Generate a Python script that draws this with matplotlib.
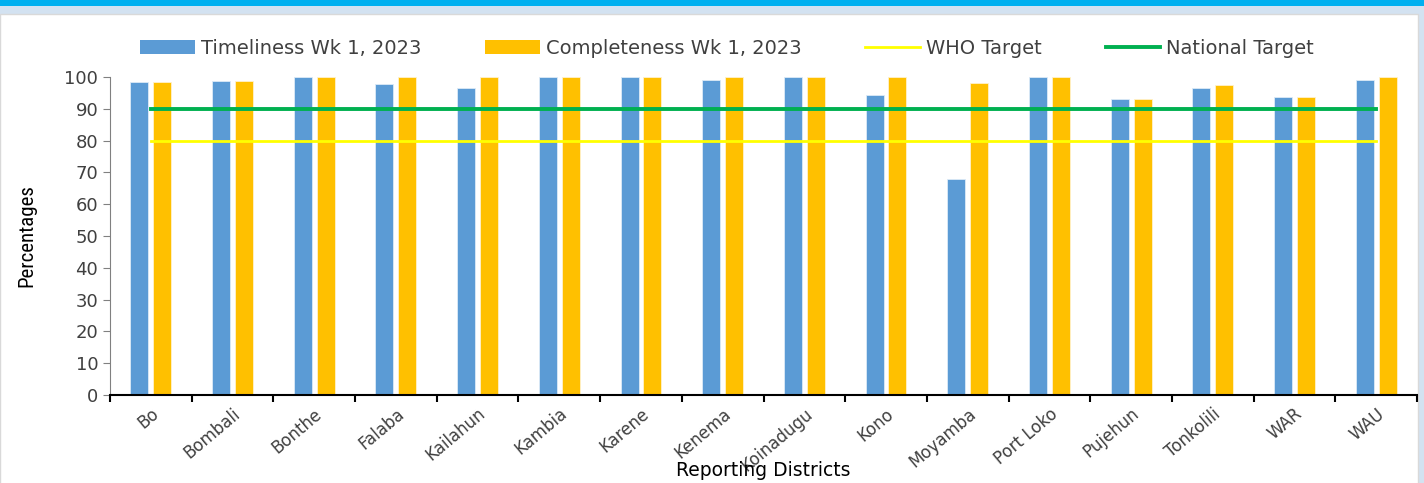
import matplotlib.pyplot as plt
import numpy as np
from matplotlib.patches import Patch, Rectangle
from matplotlib.lines import Line2D
from matplotlib import font_manager

districts = ["Bo", "Bombali", "Bonthe", "Falaba", "Kailahun", "Kambia", "Karene", "Kenema",
             "Koinadugu", "Kono", "Moyamba", "Port Loko", "Pujehun", "Tonkolili", "WAR", "WAU"]
timeliness = [98.4, 98.8, 100, 97.7, 96.6, 100, 100, 99.2, 100, 94.3, 68, 100, 93.1, 96.4, 93.8, 99.0]
completeness = [98.4, 98.8, 100, 100, 100, 100, 100, 100, 100, 100, 98.1, 100, 93.1, 97.4, 93.8, 100]
who_target = [80] * len(districts)
national_target = [90] * len(districts)

BLUE = "#5B9BD5"
GOLD = "#FFC000"
TEXT = "#404040"


def narrow_family():
    names = {f.name for f in font_manager.fontManager.ttflist}
    for cand in ("Liberation Sans Narrow", "DejaVu Sans Condensed", "Roboto Condensed"):
        if cand in names:
            return cand
    return "Liberation Sans"


def main():
    fig = plt.figure(figsize=(14.24, 4.83), dpi=100, facecolor="#D3E2F1")
    # top accent strip and white card
    fig.patches.append(Rectangle((0, 1 - 6 / 483), 1, 6 / 483, transform=fig.transFigure,
                                 facecolor="#00B0F0", edgecolor="none", zorder=-2))
    fig.patches.append(Rectangle((0, -0.01), 1418 / 1424, 1.01 - 14 / 483, transform=fig.transFigure,
                                 facecolor="white", edgecolor="#D9D9D9", lw=1, zorder=-1))

    ax = fig.add_axes([110 / 1424, 88 / 483, 1307 / 1424, 318 / 483])
    ax.set_facecolor("none")
    x = np.arange(len(districts))
    w = 0.22
    ax.bar(x - 0.14, timeliness, w, color=BLUE, edgecolor="#DDEBF7", lw=0.6, clip_on=False, zorder=2)
    ax.bar(x + 0.14, completeness, w, color=GOLD, edgecolor="#FFF2CC", lw=0.6, clip_on=False, zorder=2)
    ax.plot(x, who_target, color="#FFFF00", lw=2, zorder=3)
    ax.plot(x, national_target, color="#00B050", lw=2.8, zorder=4)

    ax.set_xlim(-0.5, len(districts) - 0.5)
    ax.set_ylim(0, 100)
    ax.set_yticks(range(0, 101, 10))
    ax.tick_params(axis="y", labelsize=13, labelcolor=TEXT, color="#808080", length=5, direction="out")
    ax.set_xticks(np.arange(-0.5, len(districts)), labels=[])
    ax.set_xticks(x, labels=districts, minor=True)
    ax.tick_params(axis="x", which="major", length=5, width=1.5, color="black", direction="out")
    ax.tick_params(axis="x", which="minor", length=0, pad=7, labelsize=12, labelcolor=TEXT)
    for lab in ax.get_xticklabels(minor=True):
        lab.set_rotation(40)
        lab.set_ha("right")
        lab.set_rotation_mode("anchor")
    for s in ("top", "right"):
        ax.spines[s].set_visible(False)
    ax.spines["left"].set_color("#808080")
    ax.spines["bottom"].set_color("black")
    ax.spines["bottom"].set_linewidth(1.5)

    ax.set_ylabel("Percentages", fontsize=15, family=narrow_family(), color="black", labelpad=20)
    ax.set_xlabel("Reporting Districts", fontsize=13.5, color="black", labelpad=-10)

    handles = [
        Patch(facecolor=BLUE, label="Timeliness Wk 1, 2023"),
        Patch(facecolor=GOLD, label="Completeness Wk 1, 2023"),
        Line2D([], [], color="#FFFF00", lw=2, label="WHO Target"),
        Line2D([], [], color="#00B050", lw=2.8, label="National Target"),
    ]
    fig.legend(handles=handles, loc="center", bbox_to_anchor=(727 / 1424, 1 - 48 / 483), ncol=4,
               frameon=False, fontsize=14, labelcolor=TEXT, handlelength=2.8, handleheight=0.7,
               handletextpad=0.3, columnspacing=3.3)

    fig.savefig("out.png", dpi=100, facecolor=fig.get_facecolor())
    plt.close(fig)


if __name__ == "__main__":
    main()
